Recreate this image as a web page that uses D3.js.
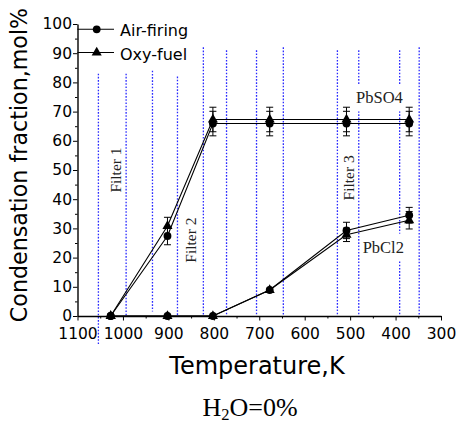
<!DOCTYPE html>
<html>
<head>
<meta charset="utf-8">
<script src="https://cdn.jsdelivr.net/npm/d3@7"></script>
<style>
body { margin: 0; background: #fff; }
.axis text { font-family: "DejaVu Sans", sans-serif; font-size: 15.5px; fill: #000; }
.axis path, .axis line { stroke: #000; }
</style>
</head>
<body>
<div id="chart"></div>
<script>
// temperatures of the sampling points, K
var temps = [1027, 902, 802, 677, 508, 370];

// PbSO4 condensation fraction, mol%
var so4Air = [0, 27.4, 65.9, 65.9, 65.9, 65.9];
var so4Oxy = [0, 30.8, 67.3, 67.3, 67.3, 67.3];
var so4AirErr = [0, 3, 4.2, 4.2, 4.2, 4.2];
var so4OxyErr = [0, 3, 4.2, 4.2, 4.2, 4.2];

// PbCl2 condensation fraction, mol%
var cl2Air = [0, 0, 0, 8.9, 29.3, 34.5];
var cl2Oxy = [0, 0, 0, 8.9, 27.8, 32.8];
var cl2AirErr = [0, 0, 0, 0, 2.8, 2.7];
var cl2OxyErr = [0, 0, 0, 0, 2.3, 3];

// filter boundaries (K) and how far each dotted line reaches (mol%)
var filterEdges = [1054, 993, 935, 880, 823, 772, 706, 647, 528, 481, 391, 348];
var edgeTops = [83, 83, 84, 82, 92, 91, 91, 92, 91, 91, 91, 92];
var edgeBottoms = [-9.6, 0, 1.5, 0, 0, 0, 0, 0, 0, 0, 0, 0];

var filterNames = ["Filter 1", "Filter 2", "Filter 3"];
var filterNameTemps = [1016, 852, 503];
var filterNameVals = [50, 26, 47.3];

var seriesNames = ["Air-firing", "Oxy-fuel"];
var xTicks = d3.range(1100, 299, -100);
var xMinor = d3.range(1050, 300, -100);
var yTicks = d3.range(0, 101, 10);
var yMinor = d3.range(5, 100, 10);

var width = 456, height = 423;

var svg = d3.select("#chart").append("svg")
    .attr("width", width)
    .attr("height", height);

var x = d3.scaleLinear().domain([1100, 300]).range([77.5, 441]);
var y = d3.scaleLinear().domain([0, 100]).range([316, 24]);

// dotted filter boundaries
svg.append("g").selectAll("line")
    .data(filterEdges)
    .enter().append("line")
    .attr("x1", function(d) { return x(d); })
    .attr("x2", function(d) { return x(d); })
    .attr("y1", function(d, i) { return y(edgeTops[i]); })
    .attr("y2", function(d, i) { return y(edgeBottoms[i]); })
    .attr("stroke", "#2a2aff")
    .attr("stroke-width", 1.3)
    .attr("stroke-dasharray", "1.6,1.6");

// filter names
for (var i = 0; i < filterNames.length; i++) {
    var fx = x(filterNameTemps[i]), fy = y(filterNameVals[i]);
    svg.append("text")
        .attr("transform", "translate(" + fx + "," + fy + ") rotate(-90)")
        .attr("text-anchor", "middle")
        .attr("dy", "0.35em")
        .style("font-family", "'Liberation Serif', serif")
        .style("font-size", "15.5px")
        .style("fill", "#222")
        .text(filterNames[i]);
}

// compound labels with a white patch behind them
function boxedLabel(txt, t, v) {
    var g = svg.append("g");
    var bg = g.append("rect").attr("fill", "#fff");
    var lab = g.append("text")
        .attr("x", x(t))
        .attr("y", y(v))
        .attr("text-anchor", "middle")
        .style("font-family", "'Liberation Serif', serif")
        .style("font-size", "16.5px")
        .style("fill", "#222")
        .text(txt);
    var b = lab.node().getBBox();
    bg.attr("x", b.x - 2).attr("y", b.y - 4)
      .attr("width", b.width + 4).attr("height", b.height + 8);
}
boxedLabel("PbSO4", 435.5, 72.8);
boxedLabel("PbCl2", 427, 21.7);

// axes
svg.append("g")
    .attr("class", "axis")
    .attr("transform", "translate(0," + y(0) + ")")
    .call(d3.axisBottom(x).tickValues(xTicks).tickFormat(d3.format("d"))
        .tickSize(4.5).tickPadding(7).tickSizeOuter(0));
svg.append("g")
    .attr("class", "axis")
    .attr("transform", "translate(0," + y(0) + ")")
    .call(d3.axisBottom(x).tickValues(xMinor).tickSize(2.5).tickFormat("").tickSizeOuter(0))
    .select(".domain").remove();

svg.append("g")
    .attr("class", "axis")
    .attr("transform", "translate(" + x(1100) + ",0)")
    .call(d3.axisLeft(y).tickValues(yTicks).tickSize(4.5).tickPadding(1).tickSizeOuter(0));
svg.append("g")
    .attr("class", "axis")
    .attr("transform", "translate(" + x(1100) + ",0)")
    .call(d3.axisLeft(y).tickValues(yMinor).tickSize(2.5).tickFormat("").tickSizeOuter(0))
    .select(".domain").remove();

svg.selectAll(".axis .domain").attr("stroke-width", 1.4);

// series lines
var line = d3.line()
    .x(function(d, i) { return x(temps[i]); })
    .y(function(d) { return y(d); });

[so4Air, so4Oxy, cl2Air, cl2Oxy].forEach(function(s) {
    svg.append("path")
        .attr("d", line(s))
        .attr("fill", "none")
        .attr("stroke", "#000")
        .attr("stroke-width", 1.1);
});

// error bars
function errorBars(vals, errs) {
    for (var i = 0; i < vals.length; i++) {
        if (!errs[i]) continue;
        var cx = x(temps[i]);
        var lo = y(vals[i] - errs[i]), hi = y(vals[i] + errs[i]);
        svg.append("line").attr("x1", cx).attr("x2", cx).attr("y1", lo).attr("y2", hi)
            .attr("stroke", "#000").attr("stroke-width", 1);
        [lo, hi].forEach(function(yy) {
            svg.append("line").attr("x1", cx - 3.5).attr("x2", cx + 3.5)
                .attr("y1", yy).attr("y2", yy)
                .attr("stroke", "#000").attr("stroke-width", 1);
        });
    }
}
errorBars(so4Air, so4AirErr);
errorBars(so4Oxy, so4OxyErr);
errorBars(cl2Air, cl2AirErr);
errorBars(cl2Oxy, cl2OxyErr);

// markers
var circleSym = d3.symbol().type(d3.symbolCircle).size(48);
var triSym = d3.symbol().type(d3.symbolTriangle).size(44);

function markers(vals, sym) {
    svg.append("g").selectAll("path")
        .data(vals)
        .enter().append("path")
        .attr("d", sym)
        .attr("transform", function(d, i) { return "translate(" + x(temps[i]) + "," + y(d) + ")"; })
        .attr("fill", "#000");
}
markers(so4Air, circleSym);
markers(cl2Air, circleSym);
markers(so4Oxy, triSym);
markers(cl2Oxy, triSym);

// legend
var legY = [29.3, 52.5];
var legSyms = [circleSym, triSym];
for (var i = 0; i < seriesNames.length; i++) {
    svg.append("line")
        .attr("x1", x(1100)).attr("x2", 114)
        .attr("y1", legY[i]).attr("y2", legY[i])
        .attr("stroke", "#000").attr("stroke-width", 1.1);
    svg.append("path")
        .attr("d", legSyms[i])
        .attr("transform", "translate(96.7," + legY[i] + ")")
        .attr("fill", "#000");
    svg.append("text")
        .attr("x", 120)
        .attr("y", legY[i] + 7)
        .style("font-family", "'DejaVu Sans', sans-serif")
        .style("font-size", "16px")
        .text(seriesNames[i]);
}

// axis titles
svg.append("text")
    .attr("transform", "translate(27,165) rotate(-90)")
    .attr("text-anchor", "middle")
    .style("font-family", "'DejaVu Sans', sans-serif")
    .style("font-size", "22.2px")
    .text("Condensation fraction,mol%");

svg.append("text")
    .attr("x", 257)
    .attr("y", 374)
    .attr("text-anchor", "middle")
    .style("font-family", "'DejaVu Sans', sans-serif")
    .style("font-size", "24px")
    .text("Temperature,K");

var note = svg.append("text")
    .attr("x", 250)
    .attr("y", 416)
    .attr("text-anchor", "middle")
    .style("font-family", "'Liberation Serif', serif")
    .style("font-size", "26px");
note.append("tspan").text("H");
note.append("tspan").attr("dy", 4).style("font-size", "16.5px").text("2");
note.append("tspan").attr("dy", -4).text("O=0%");
</script>
</body>
</html>
